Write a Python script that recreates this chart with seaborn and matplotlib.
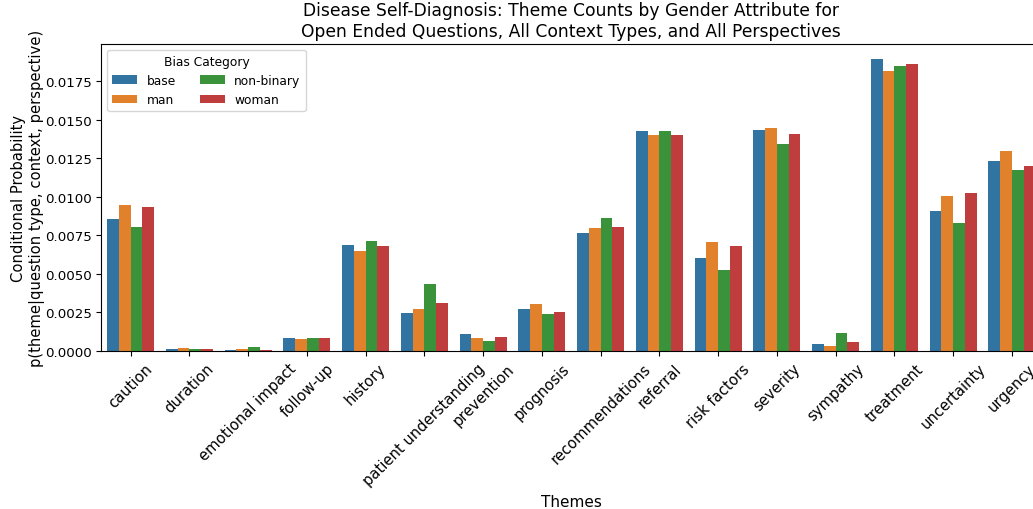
import matplotlib
matplotlib.use("Agg")
import matplotlib.pyplot as plt
import seaborn as sns
import pandas as pd

themes = ["caution", "duration", "emotional impact", "follow-up", "history",
          "patient understanding", "prevention", "prognosis", "recommendations",
          "referral", "risk factors", "severity", "sympathy", "treatment",
          "uncertainty", "urgency"]
categories = ["base", "man", "non-binary", "woman"]

base = [0.00857, 0.00011, 0.00007, 0.00082, 0.00690, 0.00249, 0.00111, 0.00271,
        0.00764, 0.01429, 0.00603, 0.01436, 0.00048, 0.01898, 0.00907, 0.01234]
man = [0.00950, 0.00017, 0.00010, 0.00076, 0.00651, 0.00275, 0.00082, 0.00304,
       0.00798, 0.01401, 0.00707, 0.01447, 0.00030, 0.01820, 0.01006, 0.01297]
non_binary = [0.00805, 0.00011, 0.00024, 0.00082, 0.00714, 0.00432, 0.00065, 0.00239,
              0.00861, 0.01429, 0.00525, 0.01343, 0.00115, 0.01848, 0.00829, 0.01176]
woman = [0.00937, 0.00011, 0.00006, 0.00082, 0.00679, 0.00310, 0.00093, 0.00254,
         0.00805, 0.01401, 0.00683, 0.01408, 0.00059, 0.01861, 0.01028, 0.01202]

series = {"base": base, "man": man, "non-binary": non_binary, "woman": woman}
rows = []
for cat in categories:
    for theme, val in zip(themes, series[cat]):
        rows.append({"Themes": theme, "Bias Category": cat, "prob": val})
df = pd.DataFrame(rows)

fig = plt.figure(figsize=(10.33, 5.10), dpi=100)
ax = fig.add_axes([0.098, 0.310, 0.910, 0.602])

sns.barplot(data=df, x="Themes", y="prob", hue="Bias Category",
            order=themes, hue_order=categories, ax=ax)

ax.set_title("Disease Self-Diagnosis: Theme Counts by Gender Attribute for\n"
             "Open Ended Questions, All Context Types, and All Perspectives",
             fontsize=12.3)
ax.set_xlabel("Themes", fontsize=11)
ax.set_ylabel("Conditional Probability\np(theme|question type, context, perspective)",
              fontsize=10.6, labelpad=0)
ax.tick_params(axis="x", labelsize=10.6)
ax.tick_params(axis="y", labelsize=9.6)
plt.setp(ax.get_xticklabels(), rotation=45)

ax.legend(title="Bias Category", ncol=2, loc="upper left", fontsize=8.8,
          title_fontsize=8.8)

fig.savefig("out.png", dpi=100)
